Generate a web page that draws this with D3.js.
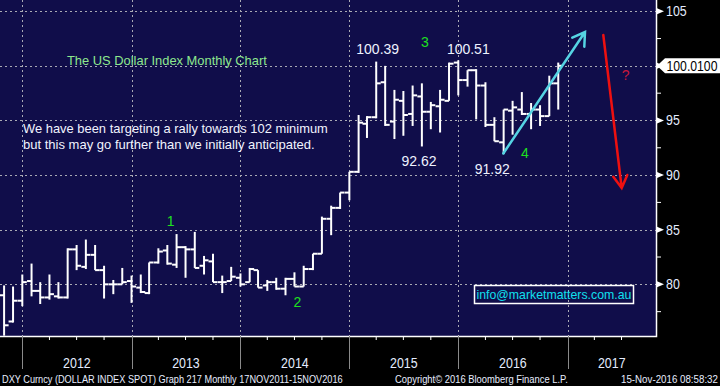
<!DOCTYPE html>
<html>
<head>
<meta charset="utf-8">
<script src="https://d3js.org/d3.v7.min.js"></script>
<style>
  body { margin: 0; background: #000; }
  svg { display: block; }
</style>
</head>
<body>
<div id="chart-container"></div>
<script>
/**************************************************
 * Data: DXY monthly OHLC
 **************************************************/
const months = [
  "2011-10","2011-11","2011-12",
  "2012-01","2012-02","2012-03","2012-04","2012-05","2012-06","2012-07","2012-08","2012-09","2012-10","2012-11","2012-12",
  "2013-01","2013-02","2013-03","2013-04","2013-05","2013-06","2013-07","2013-08","2013-09","2013-10","2013-11","2013-12",
  "2014-01","2014-02","2014-03","2014-04","2014-05","2014-06","2014-07","2014-08","2014-09","2014-10","2014-11","2014-12",
  "2015-01","2015-02","2015-03","2015-04","2015-05","2015-06","2015-07","2015-08","2015-09","2015-10","2015-11","2015-12",
  "2016-01","2016-02","2016-03","2016-04","2016-05","2016-06","2016-07","2016-08","2016-09","2016-10","2016-11"
];
const openVals = [
  79.0, 76.6, 78.5,
  80.3, 79.4, 78.8, 78.9, 78.8, 83.2, 81.6, 82.7, 81.3, 80.0, 80.0, 80.3,
  79.7, 79.2, 82.0, 83.1, 81.8, 83.4, 83.2, 81.7, 82.1, 80.2, 80.3, 80.6,
  80.2, 81.3, 79.9, 80.2, 79.6, 80.5, 79.8, 81.4, 82.8, 86.0, 87.0, 88.4,
  90.3, 94.7, 95.3, 98.5, 94.9, 96.8, 95.6, 97.2, 95.8, 96.3, 96.8, 100.3,
  98.7, 99.6, 98.2, 94.6, 93.0, 95.9, 96.0, 95.6, 96.0, 95.4, 98.4
];
const highVals = [
  79.9, 79.8, 80.9,
  81.9, 80.2, 80.9, 80.2, 83.3, 83.6, 84.1, 83.6, 81.7, 80.4, 81.5, 80.8,
  80.9, 82.0, 83.3, 83.6, 84.6, 83.5, 84.8, 82.6, 82.8, 80.8, 81.6, 81.0,
  81.5, 81.3, 80.4, 80.6, 80.6, 81.1, 81.7, 82.8, 86.2, 87.2, 88.4, 90.3,
  95.5, 95.4, 100.39, 100.0, 97.8, 97.7, 98.2, 98.4, 96.7, 97.8, 100.3, 100.51,
  99.6, 99.7, 98.5, 95.3, 96.0, 96.8, 97.6, 96.6, 96.4, 99.1, 100.3
];
const lowVals = [
  75.3, 76.5, 78.0,
  78.9, 78.2, 78.6, 78.7, 78.7, 81.3, 81.4, 81.3, 78.7, 79.1, 80.0, 78.3,
  79.2, 79.1, 81.9, 81.8, 81.5, 80.6, 81.5, 80.9, 80.2, 79.2, 80.3, 79.8,
  80.2, 79.7, 79.4, 79.5, 79.0, 79.8, 79.8, 81.3, 82.8, 84.5, 86.9, 87.7,
  90.2, 93.4, 95.2, 94.5, 93.3, 93.6, 94.5, 92.62, 94.2, 93.9, 96.8, 97.3,
  98.1, 95.1, 94.4, 93.1, 91.92, 93.7, 95.5, 94.2, 94.5, 95.4, 96.0
];
const closeVals = [
  76.25, 78.5, 80.2,
  79.4, 78.8, 79.1, 78.8, 83.2, 81.7, 82.7, 81.3, 80.0, 80.0, 80.2, 79.8,
  79.3, 82.0, 83.0, 81.9, 83.4, 83.2, 81.5, 82.2, 80.2, 80.2, 80.7, 80.0,
  81.4, 79.7, 80.2, 79.6, 80.5, 79.8, 81.4, 82.8, 86.0, 87.0, 88.4, 90.3,
  94.8, 95.3, 98.4, 94.6, 96.9, 95.5, 97.3, 95.8, 96.4, 96.9, 100.2, 98.7,
  99.6, 98.2, 94.6, 93.1, 96.0, 96.2, 95.6, 96.0, 95.4, 98.4, 100.01
];
const yLabels = [80, 85, 90, 95, 100, 105];
const yMinor = [77.5, 82.5, 87.5, 92.5, 97.5, 102.5];
const yearLabels = ["2012", "2013", "2014", "2015", "2016", "2017"];
const lastValue = 100.01;

/**************************************************
 * Chart
 **************************************************/
const W = 720, H = 386;
const plotR = 656, plotB = 336;
const sans = "'Liberation Sans', Arial, sans-serif";
const charW = 6.9; // width of one axis digit in the condensed Bloomberg font

// squeeze a text horizontally to a given width (Bloomberg uses a condensed face)
function condense(sel, width) {
  sel.each(function() {
    const t = d3.select(this);
    const x = +t.attr("x"), y = +t.attr("y");
    const w = typeof width === "function" ? width(t.datum()) : width;
    const len = this.getComputedTextLength();
    t.attr("x", 0).attr("y", 0)
      .attr("transform", `translate(${x},${y}) scale(${w / len},1)`);
  });
}

const bars = months.map((m, i) => {
  const [y, mo] = m.split("-").map(Number);
  // Bloomberg plots monthly bars at month end
  return { date: new Date(y, mo, 1), o: openVals[i], h: highVals[i], l: lowVals[i], c: closeVals[i] };
});

const xScale = d3.scaleTime()
  .domain([new Date(2012, 0, 1), new Date(2017, 0, 1)])
  .range([22.3, 567.5]);
const yScale = d3.scaleLinear()
  .domain([75.27, 106.03])
  .range([plotB, 0]);

const svg = d3.select("#chart-container")
  .append("svg")
  .attr("width", W)
  .attr("height", H)
  .style("background", "#000");

svg.append("defs").append("clipPath").attr("id", "plot-clip")
  .append("rect").attr("x", 0).attr("y", 0).attr("width", plotR).attr("height", plotB);

// plot background
svg.append("rect")
  .attr("x", 0).attr("y", 0)
  .attr("width", plotR).attr("height", plotB)
  .attr("fill", "#100d4a");

// gridlines
const years = d3.range(2012, 2018).map(y => new Date(y, 0, 1));
const grid = svg.append("g").attr("stroke", "#a9a9b4").attr("stroke-width", 1).attr("stroke-dasharray", "2,3");
grid.selectAll("line.h")
  .data(yLabels)
  .enter().append("line")
  .attr("x1", 0).attr("x2", plotR)
  .attr("y1", d => Math.round(yScale(d)) + 0.5)
  .attr("y2", d => Math.round(yScale(d)) + 0.5);
grid.selectAll("line.v")
  .data(years)
  .enter().append("line")
  .attr("x1", d => Math.round(xScale(d)) + 0.5)
  .attr("x2", d => Math.round(xScale(d)) + 0.5)
  .attr("y1", 0).attr("y2", plotB);

// OHLC bars
const ohlc = svg.append("g")
  .attr("clip-path", "url(#plot-clip)")
  .attr("stroke", "#fff")
  .attr("stroke-width", 2);
const barG = ohlc.selectAll("g.bar")
  .data(bars)
  .enter().append("g")
  .attr("class", "bar");
barG.append("line")
  .attr("x1", d => xScale(d.date)).attr("x2", d => xScale(d.date))
  .attr("y1", d => yScale(d.h)).attr("y2", d => yScale(d.l));
barG.append("line")
  .attr("x1", d => xScale(d.date) - 4.5).attr("x2", d => xScale(d.date))
  .attr("y1", d => yScale(d.o)).attr("y2", d => yScale(d.o));
barG.append("line")
  .attr("x1", d => xScale(d.date)).attr("x2", d => xScale(d.date) + 4.5)
  .attr("y1", d => yScale(d.c)).attr("y2", d => yScale(d.c));

// plot border (right and bottom)
svg.append("path")
  .attr("d", `M0,${plotB + 0.5}H${plotR + 0.5}V0`)
  .attr("fill", "none")
  .attr("stroke", "#fff")
  .attr("stroke-width", 1.5);

// right axis
const yAxis = svg.append("g").attr("transform", `translate(${plotR + 1},0)`);
yAxis.selectAll("line.minor")
  .data(yMinor)
  .enter().append("line")
  .attr("x1", 0).attr("x2", 4)
  .attr("y1", d => yScale(d)).attr("y2", d => yScale(d))
  .attr("stroke", "#fff").attr("stroke-width", 1);
yAxis.selectAll("path.tri")
  .data(yLabels)
  .enter().append("path")
  .attr("d", d => `M0,${yScale(d) - 3}L7,${yScale(d)}L0,${yScale(d) + 3}Z`)
  .attr("fill", "#fff");
yAxis.selectAll("text")
  .data(yLabels.filter(d => d !== 100))
  .enter().append("text")
  .attr("x", 9)
  .attr("y", d => yScale(d) + 5)
  .attr("font-family", sans)
  .attr("font-size", "15px")
  .attr("fill", "#e4ecff")
  .text(d => d)
  .call(condense, d => String(d).length * charW);

// last value box
const ly = yScale(lastValue);
yAxis.append("path")
  .attr("d", `M0,${ly}L8,${ly - 7.5}H63V${ly + 7.5}H8Z`)
  .attr("fill", "#fff");
yAxis.append("text")
  .attr("x", 9.5).attr("y", ly + 5)
  .attr("font-family", sans)
  .attr("font-size", "15px")
  .attr("fill", "#000")
  .text(lastValue.toFixed(4))
  .call(condense, 51);

// bottom axis: quarterly ticks, year separators, year labels
const quarters = d3.timeMonth.every(3).range(new Date(2011, 9, 1), new Date(2017, 9, 1))
  .filter(d => xScale(d) > 0 && xScale(d) < plotR - 2);
svg.append("g").selectAll("line")
  .data(quarters.filter(d => d.getMonth() !== 0))
  .enter().append("line")
  .attr("x1", d => xScale(d)).attr("x2", d => xScale(d))
  .attr("y1", plotB).attr("y2", plotB + 4)
  .attr("stroke", "#fff").attr("stroke-width", 1);
svg.append("g").selectAll("line")
  .data(years)
  .enter().append("line")
  .attr("x1", d => Math.round(xScale(d)) + 0.5).attr("x2", d => Math.round(xScale(d)) + 0.5)
  .attr("y1", plotB).attr("y2", plotB + 33)
  .attr("stroke", "#8a8a8a").attr("stroke-width", 1);
svg.append("g").selectAll("text")
  .data(yearLabels)
  .enter().append("text")
  .attr("x", d => {
    const a = xScale(new Date(+d, 0, 1));
    const b = Math.min(plotR, xScale(new Date(+d + 1, 0, 1)));
    return (a + b) / 2;
  })
  .attr("y", 368)
  .attr("text-anchor", "middle")
  .attr("font-family", sans)
  .attr("font-size", "15px")
  .attr("fill", "#e4ecff")
  .text(d => d)
  .call(condense, 4 * charW);

// footer
const footer = svg.append("g")
  .attr("font-family", sans)
  .attr("font-size", "10.5px")
  .attr("fill", "#e8eeff");
footer.append("text").attr("x", 2).attr("y", 383)
  .text("DXY Curncy (DOLLAR INDEX SPOT) Graph 217  Monthly 17NOV2011-15NOV2016")
  .call(condense, 341);
footer.append("text").attr("x", 395).attr("y", 383)
  .text("Copyright\u00A9 2016 Bloomberg Finance L.P.")
  .call(condense, 173);
footer.append("text").attr("x", 621).attr("y", 383)
  .text("15-Nov-2016 08:58:32")
  .call(condense, 97);

/**************************************************
 * Annotations
 **************************************************/
const notes = svg.append("g").attr("font-family", sans).attr("font-size", "13px");
notes.append("text").attr("x", 67).attr("y", 65)
  .attr("fill", "#8ee88e")
  .text("The US Dollar Index Monthly Chart")
  .call(condense, 200);
notes.append("text").attr("x", 23).attr("y", 133)
  .attr("fill", "#f2f4ff")
  .text("We have been targeting a rally towards 102 minimum")
  .call(condense, 305);
notes.append("text").attr("x", 23).attr("y", 149)
  .attr("fill", "#f2f4ff")
  .text("but this may go further than we initially anticipated.")
  .call(condense, 292);

// price callouts
const callouts = [
  { t: "100.39", x: 377.7, y: 54 },
  { t: "100.51", x: 468.3, y: 54 },
  { t: "92.62", x: 419, y: 166 },
  { t: "91.92", x: 492.3, y: 173.5 }
];
notes.selectAll("text.callout")
  .data(callouts)
  .enter().append("text")
  .attr("class", "callout")
  .attr("x", d => d.x).attr("y", d => d.y)
  .attr("text-anchor", "middle")
  .attr("font-size", "14px")
  .attr("fill", "#eef2ff")
  .text(d => d.t);

// wave counts
const waves = [
  { t: "1", x: 170.7, y: 226 },
  { t: "2", x: 297.3, y: 307 },
  { t: "3", x: 425, y: 46.5 },
  { t: "4", x: 525, y: 158 }
];
notes.selectAll("text.wave")
  .data(waves)
  .enter().append("text")
  .attr("class", "wave")
  .attr("x", d => d.x).attr("y", d => d.y)
  .attr("text-anchor", "middle")
  .attr("font-size", "14px")
  .attr("fill", "#1ee01e")
  .text(d => d.t);

// arrows
svg.append("path")
  .attr("d", "M503.3,153.5L585,32M572.3,37.7L585,32L584.3,46.7")
  .attr("fill", "none")
  .attr("stroke", "#55d3e3")
  .attr("stroke-width", 2.5)
  .attr("stroke-linecap", "round");
svg.append("path")
  .attr("d", "M603.3,35L621.7,188M613.3,176.7L621.7,188L627.3,175")
  .attr("fill", "none")
  .attr("stroke", "#ee1010")
  .attr("stroke-width", 2.5)
  .attr("stroke-linecap", "round");
notes.append("text").attr("x", 625.7).attr("y", 80)
  .attr("text-anchor", "middle")
  .attr("font-size", "14px")
  .attr("fill", "#c8183a")
  .text("?");

// contact box
svg.append("rect")
  .attr("x", 474.5).attr("y", 285.5)
  .attr("width", 159).attr("height", 18)
  .attr("fill", "none")
  .attr("stroke", "#fff")
  .attr("stroke-width", 1.5);
notes.append("text").attr("x", 476.5).attr("y", 299)
  .attr("fill", "#10e0ee")
  .text("info@marketmatters.com.au")
  .call(condense, 155);
</script>
</body>
</html>
